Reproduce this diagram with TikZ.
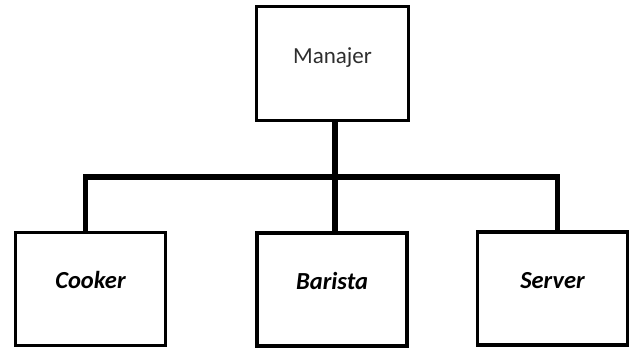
\documentclass[tikz,border=0pt]{standalone}
\usepackage{fontspec}
\setmainfont{Carlito}
\usepackage{xcolor}
\usepackage{tikz}
\usetikzlibrary{positioning}

\begin{document}
\begin{tikzpicture}[
  x=1pt, y=-1pt,
  box/.style={draw, line width=3.2pt, minimum width=150pt, minimum height=113pt, inner sep=0pt, text height=15pt, text depth=16pt, font=\fontsize{23}{27}\selectfont},
  role/.style={box, font=\fontsize{24.5}{28}\selectfont\bfseries\itshape},
  wire/.style={line width=5.8pt, line join=miter}
]
\useasboundingbox (0,0) rectangle (631,351);
\node[box, minimum width=152pt, minimum height=114pt, text=black!82] (mgr) at (332.5,63.5) {Manajer};
\node[role] (cook) at (90.5,289) {Cooker};
\node[role] (barista) at (332,289.5) {Barista};
\node[role] (serv) at (552.5,288.5) {Server};
\coordinate (join) at (335,177);

\draw[wire] (mgr.south -| join) -- (barista.north -| join);
\draw[wire] ([xshift=-5pt]cook.north) |- (join) -| ([xshift=5pt]serv.north);

\end{tikzpicture}
\end{document}
